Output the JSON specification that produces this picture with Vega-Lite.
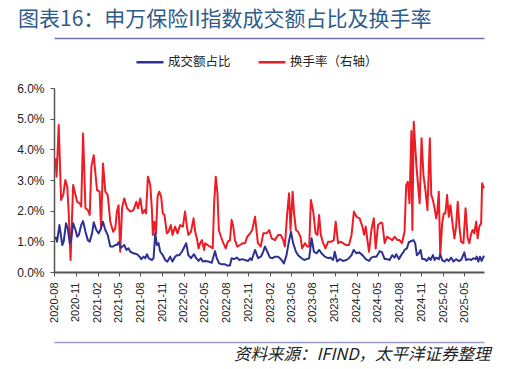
{
  "$schema": "https://vega.github.io/schema/vega-lite/v6.json",
  "width": 430,
  "height": 184,
  "autosize": {"type": "none"},
  "padding": {"left": 54, "top": 88, "right": 23, "bottom": 97},
  "background": "white",
  "config": {"view": {"stroke": null}, "font": "Noto Sans CJK SC"},
  "title": {
    "text": "图表16：申万保险II指数成交额占比及换手率",
    "anchor": "start",
    "frame": "group",
    "dx": -36,
    "offset": 8,
    "fontSize": 21,
    "fontWeight": "normal",
    "font": "Noto Sans CJK SC",
    "color": "#2E5C8A"
  },
  "datasets": {
    "red": [
      {"d":"2020-08-07","v":3.71},{"d":"2020-08-12","v":3.11},{"d":"2020-08-21","v":4.79},{"d":"2020-08-31","v":2.35},
      {"d":"2020-09-09","v":2.51},{"d":"2020-09-18","v":3.00},{"d":"2020-09-26","v":2.78},{"d":"2020-10-02","v":1.97},
      {"d":"2020-10-10","v":0.39},{"d":"2020-10-21","v":2.84},{"d":"2020-10-31","v":2.51},{"d":"2020-11-07","v":2.29},
      {"d":"2020-11-18","v":2.24},{"d":"2020-11-24","v":2.13},{"d":"2020-12-02","v":4.52},{"d":"2020-12-12","v":2.08},
      {"d":"2020-12-22","v":2.02},{"d":"2020-12-30","v":1.86},{"d":"2021-01-06","v":3.43},{"d":"2021-01-16","v":3.81},
      {"d":"2021-01-23","v":3.22},{"d":"2021-01-30","v":2.67},{"d":"2021-02-10","v":2.62},{"d":"2021-02-16","v":1.42},
      {"d":"2021-02-24","v":3.54},{"d":"2021-03-06","v":2.62},{"d":"2021-03-16","v":2.51},{"d":"2021-03-27","v":1.64},
      {"d":"2021-04-08","v":1.31},{"d":"2021-04-17","v":1.42},{"d":"2021-04-24","v":1.97},{"d":"2021-05-01","v":2.18},
      {"d":"2021-05-08","v":0.66},{"d":"2021-05-16","v":2.10},{"d":"2021-05-25","v":2.40},{"d":"2021-06-06","v":2.08},
      {"d":"2021-06-20","v":1.97},{"d":"2021-07-03","v":2.02},{"d":"2021-07-15","v":2.29},{"d":"2021-07-22","v":2.08},
      {"d":"2021-08-01","v":2.40},{"d":"2021-08-10","v":1.91},{"d":"2021-08-19","v":2.02},{"d":"2021-08-25","v":1.91},
      {"d":"2021-09-02","v":3.11},{"d":"2021-09-12","v":2.84},{"d":"2021-09-19","v":2.02},{"d":"2021-09-23","v":1.21},
      {"d":"2021-09-29","v":1.64},{"d":"2021-10-06","v":1.26},{"d":"2021-10-13","v":2.46},{"d":"2021-10-20","v":2.62},
      {"d":"2021-10-28","v":2.46},{"d":"2021-11-04","v":1.91},{"d":"2021-11-11","v":1.86},{"d":"2021-11-21","v":1.26},
      {"d":"2021-11-28","v":1.31},{"d":"2021-12-08","v":1.53},{"d":"2021-12-15","v":1.21},{"d":"2021-12-26","v":1.48},
      {"d":"2022-01-05","v":1.26},{"d":"2022-01-16","v":1.53},{"d":"2022-01-28","v":1.48},{"d":"2022-02-06","v":1.97},
      {"d":"2022-02-14","v":1.48},{"d":"2022-02-20","v":1.21},{"d":"2022-03-03","v":1.31},{"d":"2022-03-14","v":1.75},
      {"d":"2022-03-21","v":1.31},{"d":"2022-03-28","v":1.10},{"d":"2022-04-04","v":0.77},{"d":"2022-04-11","v":0.94},
      {"d":"2022-04-18","v":1.04},{"d":"2022-04-28","v":0.72},{"d":"2022-05-02","v":0.94},{"d":"2022-05-12","v":0.88},
      {"d":"2022-05-23","v":0.83},{"d":"2022-06-03","v":0.77},{"d":"2022-06-09","v":2.24},{"d":"2022-06-16","v":3.11},
      {"d":"2022-06-23","v":2.57},{"d":"2022-06-29","v":1.37},{"d":"2022-07-08","v":1.15},{"d":"2022-07-18","v":0.94},
      {"d":"2022-07-28","v":0.77},{"d":"2022-08-06","v":0.99},{"d":"2022-08-15","v":1.04},{"d":"2022-08-22","v":1.70},
      {"d":"2022-08-29","v":1.48},{"d":"2022-09-05","v":1.04},{"d":"2022-09-15","v":0.83},{"d":"2022-09-26","v":0.88},
      {"d":"2022-10-08","v":0.94},{"d":"2022-10-18","v":0.94},{"d":"2022-10-27","v":1.15},{"d":"2022-11-08","v":1.26},
      {"d":"2022-11-17","v":1.37},{"d":"2022-11-29","v":1.80},{"d":"2022-12-11","v":0.94},{"d":"2022-12-23","v":0.83},
      {"d":"2023-01-03","v":1.26},{"d":"2023-01-17","v":1.26},{"d":"2023-01-28","v":1.37},{"d":"2023-02-07","v":1.10},
      {"d":"2023-02-21","v":1.04},{"d":"2023-03-07","v":1.21},{"d":"2023-03-18","v":1.21},{"d":"2023-03-28","v":1.04},
      {"d":"2023-04-04","v":0.83},{"d":"2023-04-14","v":1.91},{"d":"2023-04-22","v":2.57},{"d":"2023-04-28","v":1.37},
      {"d":"2023-05-07","v":2.62},{"d":"2023-05-13","v":1.91},{"d":"2023-05-21","v":1.37},{"d":"2023-05-30","v":1.31},
      {"d":"2023-06-09","v":1.15},{"d":"2023-06-16","v":0.77},{"d":"2023-06-28","v":0.94},{"d":"2023-07-07","v":0.83},
      {"d":"2023-07-16","v":0.83},{"d":"2023-07-23","v":2.35},{"d":"2023-08-02","v":1.97},{"d":"2023-08-12","v":1.26},
      {"d":"2023-08-20","v":1.21},{"d":"2023-08-27","v":1.86},{"d":"2023-09-03","v":1.21},{"d":"2023-09-13","v":0.94},
      {"d":"2023-09-23","v":0.77},{"d":"2023-10-04","v":0.99},{"d":"2023-10-18","v":0.99},{"d":"2023-10-28","v":1.04},
      {"d":"2023-11-05","v":1.64},{"d":"2023-11-15","v":0.94},{"d":"2023-11-25","v":0.99},{"d":"2023-12-06","v":0.94},
      {"d":"2023-12-17","v":0.88},{"d":"2023-12-31","v":0.88},{"d":"2024-01-11","v":1.21},{"d":"2024-01-21","v":1.97},
      {"d":"2024-02-01","v":1.80},{"d":"2024-02-14","v":1.75},{"d":"2024-02-26","v":1.48},{"d":"2024-03-04","v":1.21},
      {"d":"2024-03-11","v":1.48},{"d":"2024-03-18","v":1.04},{"d":"2024-03-25","v":0.66},{"d":"2024-04-04","v":1.37},
      {"d":"2024-04-14","v":1.75},{"d":"2024-04-22","v":0.77},{"d":"2024-05-02","v":1.53},{"d":"2024-05-13","v":1.61},
      {"d":"2024-05-20","v":1.59},{"d":"2024-05-30","v":0.94},{"d":"2024-06-09","v":1.15},{"d":"2024-06-20","v":1.10},
      {"d":"2024-07-01","v":1.04},{"d":"2024-07-11","v":1.15},{"d":"2024-07-23","v":1.04},{"d":"2024-08-01","v":1.04},
      {"d":"2024-08-11","v":0.94},{"d":"2024-08-22","v":1.31},{"d":"2024-08-29","v":2.84},{"d":"2024-09-05","v":2.94},
      {"d":"2024-09-12","v":2.24},{"d":"2024-09-20","v":4.60},{"d":"2024-09-24","v":1.37},{"d":"2024-09-30","v":4.90},
      {"d":"2024-10-11","v":3.50},{"d":"2024-10-17","v":2.94},{"d":"2024-10-25","v":2.24},{"d":"2024-11-02","v":4.36},
      {"d":"2024-11-10","v":3.16},{"d":"2024-11-19","v":2.62},{"d":"2024-11-27","v":2.02},{"d":"2024-12-07","v":4.36},
      {"d":"2024-12-13","v":2.51},{"d":"2024-12-20","v":2.35},{"d":"2024-12-27","v":2.08},{"d":"2025-01-03","v":1.75},
      {"d":"2025-01-07","v":1.91},{"d":"2025-01-14","v":2.62},{"d":"2025-01-20","v":0.55},{"d":"2025-01-28","v":1.59},
      {"d":"2025-02-04","v":1.91},{"d":"2025-02-11","v":1.91},{"d":"2025-02-18","v":2.51},{"d":"2025-02-25","v":1.80},
      {"d":"2025-03-04","v":2.18},{"d":"2025-03-11","v":1.70},{"d":"2025-03-21","v":1.10},{"d":"2025-03-28","v":1.48},
      {"d":"2025-04-04","v":2.29},{"d":"2025-04-11","v":1.48},{"d":"2025-04-18","v":0.99},{"d":"2025-04-28","v":0.94},
      {"d":"2025-05-07","v":2.08},{"d":"2025-05-16","v":1.10},{"d":"2025-05-23","v":0.94},{"d":"2025-05-31","v":1.26},
      {"d":"2025-06-06","v":1.37},{"d":"2025-06-13","v":1.26},{"d":"2025-06-21","v":1.64},{"d":"2025-06-27","v":1.10},
      {"d":"2025-07-04","v":1.48},{"d":"2025-07-12","v":1.59},{"d":"2025-07-16","v":2.89},{"d":"2025-07-24","v":2.73}
    ],
    "blue": [
      {"d":"2020-08-07","v":1.15},{"d":"2020-08-14","v":0.99},{"d":"2020-08-24","v":1.53},{"d":"2020-09-05","v":0.88},
      {"d":"2020-09-11","v":0.99},{"d":"2020-09-21","v":1.59},{"d":"2020-09-28","v":1.42},{"d":"2020-10-07","v":0.94},
      {"d":"2020-10-12","v":1.04},{"d":"2020-10-21","v":1.59},{"d":"2020-10-31","v":1.37},{"d":"2020-11-07","v":1.15},
      {"d":"2020-11-14","v":1.21},{"d":"2020-11-24","v":1.53},{"d":"2020-12-02","v":1.66},{"d":"2020-12-12","v":1.31},
      {"d":"2020-12-22","v":1.04},{"d":"2020-12-30","v":0.99},{"d":"2021-01-09","v":1.26},{"d":"2021-01-16","v":1.62},
      {"d":"2021-01-27","v":1.37},{"d":"2021-02-06","v":1.26},{"d":"2021-02-13","v":1.37},{"d":"2021-02-24","v":1.64},
      {"d":"2021-03-06","v":1.37},{"d":"2021-03-16","v":1.21},{"d":"2021-03-27","v":0.83},{"d":"2021-04-08","v":0.83},
      {"d":"2021-04-17","v":0.88},{"d":"2021-04-24","v":0.88},{"d":"2021-05-01","v":0.97},{"d":"2021-05-11","v":0.79},
      {"d":"2021-05-25","v":0.88},{"d":"2021-06-03","v":0.72},{"d":"2021-06-12","v":0.77},{"d":"2021-06-20","v":0.66},
      {"d":"2021-07-03","v":0.61},{"d":"2021-07-18","v":0.58},{"d":"2021-07-29","v":0.50},{"d":"2021-08-05","v":0.42},
      {"d":"2021-08-15","v":0.50},{"d":"2021-08-22","v":0.45},{"d":"2021-08-29","v":0.58},{"d":"2021-09-05","v":0.45},
      {"d":"2021-09-19","v":0.39},{"d":"2021-09-26","v":0.45},{"d":"2021-10-03","v":1.26},{"d":"2021-10-10","v":0.88},
      {"d":"2021-10-17","v":0.94},{"d":"2021-10-24","v":0.66},{"d":"2021-11-04","v":0.55},{"d":"2021-11-14","v":0.39},
      {"d":"2021-11-24","v":0.34},{"d":"2021-12-05","v":0.50},{"d":"2021-12-15","v":0.34},{"d":"2021-12-26","v":0.50},
      {"d":"2022-01-03","v":0.55},{"d":"2022-01-13","v":0.55},{"d":"2022-01-24","v":0.66},{"d":"2022-02-04","v":0.83},
      {"d":"2022-02-11","v":0.94},{"d":"2022-02-20","v":0.55},{"d":"2022-03-03","v":0.45},{"d":"2022-03-16","v":0.58},
      {"d":"2022-03-25","v":0.45},{"d":"2022-04-04","v":0.36},{"d":"2022-04-14","v":0.45},{"d":"2022-04-22","v":0.34},
      {"d":"2022-05-02","v":0.36},{"d":"2022-05-16","v":0.34},{"d":"2022-05-30","v":0.30},{"d":"2022-06-06","v":0.50},
      {"d":"2022-06-13","v":0.68},{"d":"2022-06-20","v":0.45},{"d":"2022-06-30","v":0.28},{"d":"2022-07-11","v":0.25},
      {"d":"2022-07-25","v":0.25},{"d":"2022-08-04","v":0.21},{"d":"2022-08-15","v":0.21},{"d":"2022-08-22","v":0.45},
      {"d":"2022-09-01","v":0.42},{"d":"2022-09-13","v":0.47},{"d":"2022-09-24","v":0.39},{"d":"2022-10-06","v":0.42},
      {"d":"2022-10-18","v":0.39},{"d":"2022-10-31","v":0.36},{"d":"2022-11-08","v":0.45},{"d":"2022-11-15","v":0.39},
      {"d":"2022-11-29","v":0.72},{"d":"2022-12-12","v":0.45},{"d":"2022-12-23","v":0.50},{"d":"2022-12-31","v":0.61},
      {"d":"2023-01-10","v":0.83},{"d":"2023-01-20","v":0.66},{"d":"2023-01-31","v":0.47},{"d":"2023-02-11","v":0.45},
      {"d":"2023-02-21","v":0.50},{"d":"2023-03-07","v":0.50},{"d":"2023-03-21","v":0.39},{"d":"2023-03-31","v":0.28},
      {"d":"2023-04-11","v":0.55},{"d":"2023-04-21","v":0.99},{"d":"2023-04-30","v":1.31},{"d":"2023-05-09","v":0.94},
      {"d":"2023-05-21","v":0.66},{"d":"2023-05-30","v":0.55},{"d":"2023-06-14","v":0.45},{"d":"2023-06-25","v":0.39},
      {"d":"2023-07-05","v":0.42},{"d":"2023-07-16","v":0.45},{"d":"2023-07-26","v":1.10},{"d":"2023-08-05","v":0.66},
      {"d":"2023-08-16","v":0.61},{"d":"2023-08-27","v":0.72},{"d":"2023-09-06","v":0.61},{"d":"2023-09-20","v":0.50},
      {"d":"2023-10-04","v":0.45},{"d":"2023-10-14","v":0.47},{"d":"2023-10-25","v":0.39},{"d":"2023-11-01","v":0.66},
      {"d":"2023-11-11","v":0.34},{"d":"2023-11-22","v":0.42},{"d":"2023-12-06","v":0.36},{"d":"2023-12-20","v":0.39},
      {"d":"2023-12-31","v":0.45},{"d":"2024-01-11","v":0.55},{"d":"2024-01-20","v":0.72},{"d":"2024-02-01","v":0.61},
      {"d":"2024-02-12","v":0.64},{"d":"2024-02-26","v":0.55},{"d":"2024-03-11","v":0.42},{"d":"2024-03-25","v":0.36},
      {"d":"2024-04-04","v":0.47},{"d":"2024-04-15","v":0.50},{"d":"2024-04-25","v":0.50},{"d":"2024-05-09","v":0.68},
      {"d":"2024-05-19","v":0.64},{"d":"2024-05-30","v":0.42},{"d":"2024-06-09","v":0.42},{"d":"2024-06-20","v":0.39},
      {"d":"2024-07-01","v":0.55},{"d":"2024-07-11","v":0.47},{"d":"2024-07-18","v":0.58},{"d":"2024-07-29","v":0.42},
      {"d":"2024-08-08","v":0.55},{"d":"2024-08-18","v":0.66},{"d":"2024-08-22","v":0.72},{"d":"2024-09-01","v":0.77},
      {"d":"2024-09-09","v":0.97},{"d":"2024-09-20","v":1.01},{"d":"2024-09-29","v":1.04},{"d":"2024-10-06","v":0.94},
      {"d":"2024-10-13","v":0.55},{"d":"2024-10-22","v":0.61},{"d":"2024-10-29","v":0.72},{"d":"2024-11-05","v":0.42},
      {"d":"2024-11-15","v":0.42},{"d":"2024-11-24","v":0.36},{"d":"2024-12-03","v":0.47},{"d":"2024-12-10","v":0.39},
      {"d":"2024-12-20","v":0.55},{"d":"2024-12-27","v":0.39},{"d":"2025-01-03","v":0.47},{"d":"2025-01-14","v":0.42},
      {"d":"2025-01-20","v":0.58},{"d":"2025-01-28","v":0.39},{"d":"2025-02-07","v":0.34},{"d":"2025-02-17","v":0.42},
      {"d":"2025-02-25","v":0.36},{"d":"2025-03-07","v":0.47},{"d":"2025-03-17","v":0.34},{"d":"2025-03-28","v":0.42},
      {"d":"2025-04-08","v":0.36},{"d":"2025-04-18","v":0.39},{"d":"2025-05-02","v":0.64},{"d":"2025-05-09","v":0.39},
      {"d":"2025-05-20","v":0.42},{"d":"2025-05-31","v":0.39},{"d":"2025-06-09","v":0.45},{"d":"2025-06-18","v":0.42},
      {"d":"2025-06-23","v":0.50},{"d":"2025-06-30","v":0.34},{"d":"2025-07-07","v":0.50},{"d":"2025-07-14","v":0.36},
      {"d":"2025-07-24","v":0.53}
    ]
  },
  "encoding": {
    "y": {
      "field": "v",
      "type": "quantitative",
      "scale": {"domain": [0, 6], "nice": false, "zero": true},
      "axis": {
        "values": [0, 1, 2, 3, 4, 5, 6],
        "labelExpr": "format(datum.value, '.1f') + '%'",
        "title": null,
        "grid": false,
        "tickSize": 4,
        "labelPadding": 6,
        "domainColor": "#555555",
        "domainWidth": 1.5,
        "tickColor": "#555555",
        "labelFont": "Liberation Sans",
        "labelFontSize": 12,
        "labelColor": "#222222"
      }
    }
  },
  "resolve": {"axis": {"x": "independent"}},
  "layer": [
    {
      "data": {"name": "red"},
      "mark": {"type": "line", "strokeWidth": 2, "strokeJoin": "round"},
      "encoding": {
        "x": {
          "field": "d",
          "type": "temporal",
          "scale": {"type": "utc", "domain": [{"year": 2020, "month": 8, "date": 1, "utc": true}, {"year": 2025, "month": 7, "date": 24, "utc": true}]},
          "axis": {"orient": "top", "offset": 50, "domain": true, "domainOpacity": 1, "labels": false, "ticks": false, "grid": false, "title": null, "domainColor": "#6E74B0", "domainWidth": 1.5, "zindex": 1}
        },
        "color": {
          "datum": "换手率（右轴）",
          "scale": {"domain": ["成交额占比", "换手率（右轴）"], "range": ["#2E3192", "#EE1C25"]},
          "legend": {
            "title": null,
            "orient": "none",
            "legendX": 81,
            "legendY": -41,
            "direction": "horizontal",
            "symbolType": "stroke",
            "symbolSize": 729,
            "symbolStrokeWidth": 2.5,
            "labelFontSize": 12.5,
            "labelFont": "Noto Sans CJK SC",
            "labelColor": "#222222",
            "labelOffset": 3,
            "columnPadding": 22,
            "padding": 0
          }
        }
      }
    },
    {
      "data": {"name": "blue"},
      "mark": {"type": "line", "strokeWidth": 2, "strokeJoin": "round"},
      "encoding": {
        "x": {
          "field": "d",
          "type": "temporal",
          "scale": {"type": "utc", "domain": [{"year": 2020, "month": 8, "date": 1, "utc": true}, {"year": 2025, "month": 7, "date": 24, "utc": true}]},
          "axis": {
            "orient": "bottom",
            "values": [
              {"year": 2020, "month": 8, "date": 1, "utc": true}, {"year": 2020, "month": 11, "date": 1, "utc": true},
              {"year": 2021, "month": 2, "date": 1, "utc": true}, {"year": 2021, "month": 5, "date": 1, "utc": true},
              {"year": 2021, "month": 8, "date": 1, "utc": true}, {"year": 2021, "month": 11, "date": 1, "utc": true},
              {"year": 2022, "month": 2, "date": 1, "utc": true}, {"year": 2022, "month": 5, "date": 1, "utc": true},
              {"year": 2022, "month": 8, "date": 1, "utc": true}, {"year": 2022, "month": 11, "date": 1, "utc": true},
              {"year": 2023, "month": 2, "date": 1, "utc": true}, {"year": 2023, "month": 5, "date": 1, "utc": true},
              {"year": 2023, "month": 8, "date": 1, "utc": true}, {"year": 2023, "month": 11, "date": 1, "utc": true},
              {"year": 2024, "month": 2, "date": 1, "utc": true}, {"year": 2024, "month": 5, "date": 1, "utc": true},
              {"year": 2024, "month": 8, "date": 1, "utc": true}, {"year": 2024, "month": 11, "date": 1, "utc": true},
              {"year": 2025, "month": 2, "date": 1, "utc": true}, {"year": 2025, "month": 5, "date": 1, "utc": true}
            ],
            "format": "%Y-%m",
            "labelAngle": 270,
            "labelAlign": "right",
            "labelBaseline": "middle",
            "labelFont": "Liberation Sans",
            "labelFontSize": 11,
            "labelColor": "#222222",
            "labelPadding": 6,
            "labelOverlap": false,
            "labelFlush": false,
            "tickSize": 4,
            "tickColor": "#555555",
            "domainColor": "#555555",
            "domainWidth": 2,
            "grid": false,
            "title": null
          }
        },
        "color": {"datum": "成交额占比"}
      }
    },
    {
      "data": {"name": "blue"},
      "mark": {"type": "line", "opacity": 0},
      "encoding": {
        "x": {
          "field": "d",
          "type": "temporal",
          "scale": {"type": "utc", "domain": [{"year": 2020, "month": 8, "date": 1, "utc": true}, {"year": 2025, "month": 7, "date": 24, "utc": true}]},
          "axis": {
            "orient": "bottom",
            "offset": 70,
            "domain": true,
            "domainOpacity": 1,
            "zindex": 1,
            "labels": false,
            "ticks": false,
            "grid": false,
            "domainColor": "#9A9ACC",
            "domainWidth": 1.5,
            "title": "资料来源：IFIND，太平洋证券整理",
            "titleAnchor": "end",
            "titleX": 436,
            "titleAlign": "right",
            "titlePadding": 4,
            "titleFont": "Noto Sans CJK SC",
            "titleFontSize": 16.5,
            "titleFontStyle": "italic",
            "titleFontWeight": "normal",
            "titleColor": "#222222"
          }
        },
        "color": {"datum": "成交额占比"}
      }
    }
  ]
}
